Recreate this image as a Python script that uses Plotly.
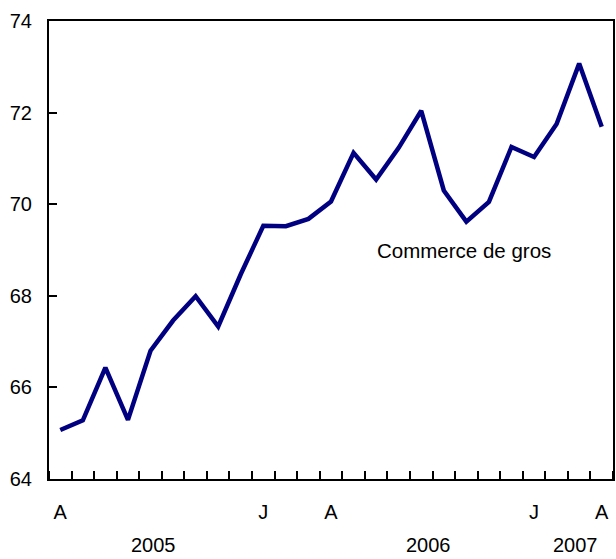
import plotly.graph_objects as go

months = ["2005-04", "2005-05", "2005-06", "2005-07", "2005-08", "2005-09", "2005-10",
          "2005-11", "2005-12", "2006-01", "2006-02", "2006-03", "2006-04", "2006-05",
          "2006-06", "2006-07", "2006-08", "2006-09", "2006-10", "2006-11", "2006-12",
          "2007-01", "2007-02", "2007-03", "2007-04"]
values = [65.07, 65.28, 66.43, 65.29, 66.80, 67.46, 67.99, 67.33, 68.47, 69.53,
          69.52, 69.68, 70.06, 71.12, 70.54, 71.23, 72.04, 70.30, 69.62, 70.05,
          71.25, 71.03, 71.75, 73.07, 71.69]
label_idx = [0, 9, 12, 21, 24]
label_text = ["A", "J", "A", "J", "A"]
years = ["2005", "2006", "2007"]
year_pos = [4.12, 16.3, 22.85]
series_name = "Commerce de gros"

x = list(range(len(months)))
font = dict(family="Liberation Sans, Arial, sans-serif", size=20, color="black")

fig = go.Figure()
fig.add_trace(go.Scatter(x=x, y=values, mode="lines",
                         line=dict(color="#000080", width=4.5),
                         customdata=months, hovertemplate="%{customdata}: %{y}<extra></extra>",
                         showlegend=False))

fig.update_xaxes(range=[-0.5, len(months) - 0.5], tickmode="array",
                 tickvals=label_idx, ticktext=label_text, ticks="", showgrid=False,
                 zeroline=False, showline=True, linecolor="black", linewidth=2, mirror=True,
                 tickfont=font, ticklabelstandoff=14,
                 minor=dict(tick0=0.5, dtick=1, ticks="inside", ticklen=8, tickwidth=2,
                            tickcolor="black", showgrid=False))
fig.update_yaxes(range=[64, 74], dtick=2, tick0=64, ticks="inside", ticklen=8, tickwidth=2,
                 tickcolor="black", showgrid=False, zeroline=False, showline=True,
                 linecolor="black", linewidth=2, mirror=True, tickfont=font,
                 ticklabelstandoff=11)

for yr, pos in zip(years, year_pos):
    fig.add_annotation(x=pos, y=-0.117, xref="x", yref="paper", text=yr, showarrow=False,
                       font=font, yanchor="top", borderpad=0)

fig.add_annotation(x=17.9, y=69.0, xref="x", yref="y", text=series_name, showarrow=False,
                   font=dict(family="Liberation Sans, Arial, sans-serif", size=20.5,
                             color="black"))

fig.update_layout(width=616, height=559, margin=dict(l=49, r=1, t=21, b=80),
                  plot_bgcolor="white", paper_bgcolor="white", font=font)

fig.write_html("out.html", config={"displayModeBar": False},
               post_script="document.body.style.margin='0';document.body.style.overflow='hidden';")
